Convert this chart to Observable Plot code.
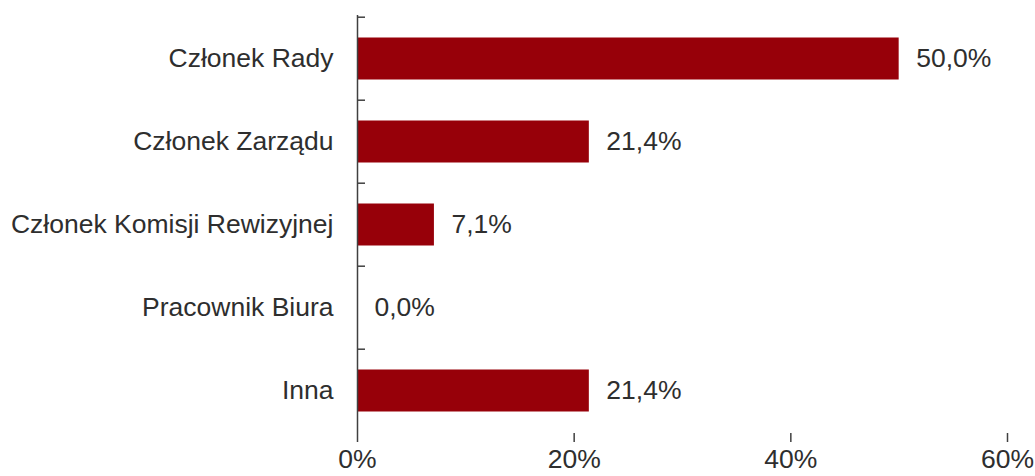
<!DOCTYPE html>
<html>
<head>
<meta charset="utf-8">
<script src="https://cdn.jsdelivr.net/npm/d3@7"></script>
<script src="https://cdn.jsdelivr.net/npm/@observablehq/plot@0.6"></script>
<style>
  html, body { margin: 0; padding: 0; background: #fff; }
</style>
</head>
<body>
<div id="chart"></div>
<script>
const categories = ["Członek Rady", "Członek Zarządu", "Członek Komisji Rewizyjnej", "Pracownik Biura", "Inna"];
const values = [50.0, 21.4, 7.1, 0.0, 21.4];
const xTicks = [0, 20, 40, 60];

const data = categories.map((c, i) => ({category: c, value: values[i]}));

const W = 1035, H = 476;
const mL = 357, mR = 28, mT = 15, mB = 43;
const step = (H - mT - mB) / categories.length;
const axisColor = "#404040";
const textColor = "#2e2e2e";
const barColor = "#970009";
const fs = 26.5;
const fmt = v => v.toFixed(1).replace(".", ",") + "%";

const chart = Plot.plot({
  width: W,
  height: H,
  marginLeft: mL,
  marginRight: mR,
  marginTop: mT,
  marginBottom: mB,
  style: {fontFamily: "'Liberation Sans', Arial, sans-serif", fontSize: fs + "px", color: textColor, background: "#fff", overflow: "visible"},
  x: {domain: [0, 60]},
  y: {domain: categories, padding: 0},
  marks: [
    Plot.barX(data, {x: "value", y: "category", fill: barColor, insetTop: 20.5, insetBottom: 20.5}),
    Plot.text(data, {x: "value", y: "category", text: d => fmt(d.value), textAnchor: "start", dx: 17, fill: textColor, fontSize: fs}),
    Plot.ruleX([0], {stroke: axisColor, strokeWidth: 1.5}),
    Plot.ruleY([0], {stroke: axisColor, strokeWidth: 1.5}),
    Plot.ruleY(categories, {y: d => d, x1: 0, x2: 60 * 8 / (W - mL - mR), dy: -step / 2, stroke: axisColor, strokeWidth: 1.5}),
    Plot.axisX(xTicks, {tickSize: 9, tickPadding: 7, tickFormat: d => d + "%", stroke: axisColor, strokeWidth: 1.5, fill: textColor, label: null, fontSize: fs}),
    Plot.axisY({tickSize: 0, tickPadding: 24, label: null, fill: textColor, fontSize: fs})
  ]
});
document.getElementById("chart").appendChild(chart);
</script>
</body>
</html>
